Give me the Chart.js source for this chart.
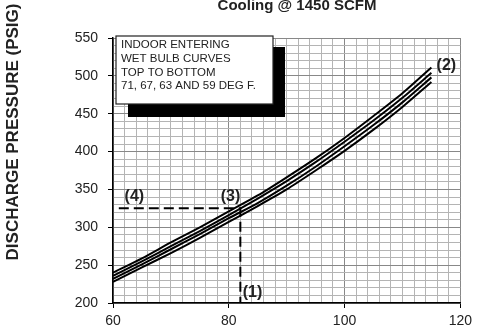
<!DOCTYPE html>
<html>
<head>
<meta charset="utf-8">
<script src="https://cdn.jsdelivr.net/npm/chart.js@4.4.1/dist/chart.umd.min.js"></script>
<style>
  body { margin: 0; background: #fff; }
  #wrap { width: 477px; height: 335px; }
</style>
</head>
<body>
<div id="wrap"><canvas id="chart"></canvas></div>
<script>
// outdoor ambient temperature (deg F)
const outdoorTemp = [60, 65, 70, 75, 80, 85, 90, 95, 100, 105, 110, 115];
// discharge pressure for each indoor wet bulb curve (psig)
const wb71 = [240, 259, 280, 300, 321, 342, 366, 391, 418, 447, 477, 511];
const wb67 = [236, 255, 275, 295, 316, 338, 361, 386, 413, 441, 471, 504];
const wb63 = [232, 251, 271, 291, 312, 332, 355, 380, 407, 435, 465, 498];
const wb59 = [228, 247, 266, 286, 307, 328, 350, 375, 401, 429, 459, 492];
// example reading: 82 F outdoor -> 325 psig
const refX = [61, 82, 82];
const refY = [325, 325, 200];

const xLabels = [60, 80, 100, 120];
const yLabels = [200, 250, 300, 350, 400, 450, 500, 550];

const legendLines = ['INDOOR ENTERING', 'WET BULB CURVES', 'TOP TO BOTTOM', '71, 67, 63 AND 59 DEG F.'];

Chart.defaults.font.family = '"Liberation Sans", Arial, sans-serif';

function curve(ys) {
  return {
    data: outdoorTemp.map((t, i) => ({ x: t, y: ys[i] })),
    borderColor: '#000',
    borderWidth: 2,
    pointRadius: 0,
    tension: 0.25,
    fill: false
  };
}

const extras = {
  id: 'extras',
  afterDraw(chart) {
    const { ctx, chartArea, scales: { x, y } } = chart;
    const font = '"Liberation Sans", Arial, sans-serif';
    ctx.save();

    // legend box with drop shadow
    const bx = chartArea.left + 3, by = chartArea.top - 2, bw = 157, bh = 68;
    ctx.fillStyle = '#000';
    ctx.fillRect(bx + 12, by + 11, bw, bh + 2);
    ctx.fillStyle = '#fff';
    ctx.fillRect(bx, by, bw, bh);
    ctx.strokeStyle = '#222';
    ctx.lineWidth = 1.2;
    ctx.strokeRect(bx, by, bw, bh);
    ctx.fillStyle = '#222';
    ctx.font = '11.5px ' + font;
    ctx.textAlign = 'left';
    ctx.textBaseline = 'middle';
    legendLines.forEach((s, i) => ctx.fillText(s, bx + 5, by + 9 + i * 13.7));

    // point labels
    ctx.fillStyle = '#222';
    ctx.font = 'bold 16px ' + font;
    ctx.textBaseline = 'middle';
    ctx.textAlign = 'left';
    ctx.fillText('(4)', x.getPixelForValue(62), y.getPixelForValue(341));
    ctx.textAlign = 'right';
    ctx.fillText('(3)', x.getPixelForValue(82), y.getPixelForValue(341));
    ctx.textAlign = 'left';
    ctx.fillText('(1)', x.getPixelForValue(82.4), y.getPixelForValue(214));
    ctx.fillText('(2)', x.getPixelForValue(115.9), y.getPixelForValue(514));

    // title
    ctx.font = 'bold 15px ' + font;
    ctx.textAlign = 'center';
    ctx.fillText('Cooling @ 1450 SCFM', 297, 6);

    // y axis title
    ctx.translate(13, 132);
    ctx.rotate(-Math.PI / 2);
    ctx.font = 'bold 17px ' + font;
    ctx.fillText('DISCHARGE PRESSURE (PSIG)', 0, 0);
    ctx.restore();
  }
};

new Chart(document.getElementById('chart'), {
  type: 'line',
  data: {
    datasets: [
      curve(wb71), curve(wb67), curve(wb63), curve(wb59),
      {
        data: refX.map((v, i) => ({ x: v, y: refY[i] })),
        borderColor: '#000',
        borderWidth: 2,
        borderDash: [10, 5],
        pointRadius: 0,
        tension: 0
      }
    ]
  },
  options: {
    responsive: true,
    maintainAspectRatio: false,
    animation: false,
    layout: { padding: { top: 38, right: 14, left: 0, bottom: 0 } },
    plugins: { legend: { display: false }, tooltip: { enabled: false } },
    scales: {
      x: {
        type: 'linear',
        min: 60, max: 120,
        afterFit: s => { s.height = 32; },
        ticks: {
          stepSize: 2, autoSkip: false, maxRotation: 0, padding: 5,
          color: '#222', font: { size: 14 },
          callback: v => xLabels.includes(v) ? v : ''
        },
        grid: {
          color: c => xLabels.includes(c.tick.value) ? '#888' : '#b4b4b4',
          tickColor: c => xLabels.includes(c.tick.value) ? '#000' : 'rgba(0,0,0,0)',
          tickLength: 5
        },
        border: { color: '#000', width: 1.5 }
      },
      y: {
        min: 200, max: 550,
        afterFit: s => { s.width = 113; },
        ticks: {
          stepSize: 10, autoSkip: false, padding: 10,
          color: '#222', font: { size: 14 },
          callback: v => yLabels.includes(v) ? v : ''
        },
        grid: {
          color: c => yLabels.includes(c.tick.value) ? '#888' : '#b4b4b4',
          tickColor: c => yLabels.includes(c.tick.value) ? '#000' : 'rgba(0,0,0,0)',
          tickLength: 5
        },
        border: { color: '#000', width: 1.5 }
      }
    }
  },
  plugins: [extras]
});
</script>
</body>
</html>
